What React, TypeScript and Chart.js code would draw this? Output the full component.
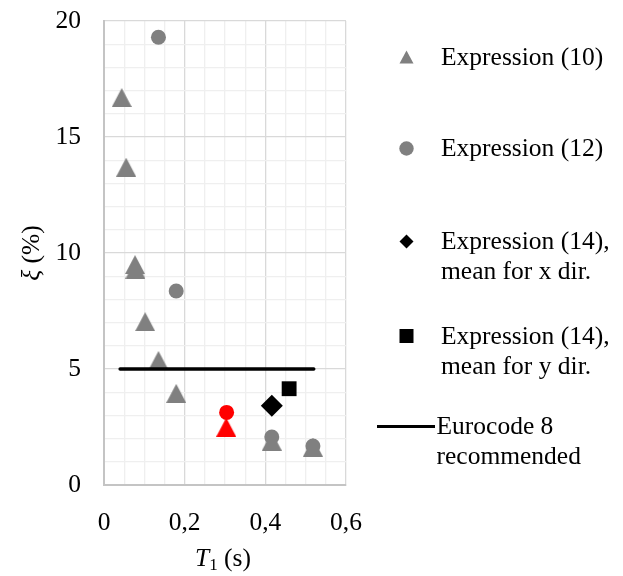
import React, { useEffect, useRef } from 'react';
import { Chart, registerables } from 'chart.js';

Chart.register(...registerables);

// ---------- data ----------
const expr10X = [0.044, 0.055, 0.077, 0.078, 0.102, 0.135, 0.179, 0.416, 0.518];
const expr10Y = [16.7, 13.7, 9.5, 9.3, 7.04, 5.37, 3.95, 1.89, 1.63];
const expr12X = [0.135, 0.179, 0.416, 0.518];
const expr12Y = [19.3, 8.36, 2.07, 1.68];
const highlightCircleX = [0.304];
const highlightCircleY = [3.13];
const highlightTriangleX = [0.303];
const highlightTriangleY = [2.49];
const expr14xDirX = [0.416];
const expr14xDirY = [3.42];
const expr14yDirX = [0.459];
const expr14yDirY = [4.15];
const eurocodeX = [0.04, 0.52];
const eurocodeY = [5, 5];

const xMin = 0, xMax = 0.6, xMinorStep = 0.05, xMajorStep = 0.2;
const yMin = 0, yMax = 20, yMinorStep = 1, yMajorStep = 5;

const legendLabels = [
  ['Expression (10)'],
  ['Expression (12)'],
  ['Expression (14),', 'mean for x dir.'],
  ['Expression (14),', 'mean for y dir.'],
  ['Eurocode 8', 'recommended'],
];

// ---------- styles ----------
const FONT = "'Liberation Serif', 'Times New Roman', serif";
const FS = 25.5;
const GRAY = '#808080';
const RED = '#ff0000';
const BLACK = '#000000';

const pts = (xs: number[], ys: number[]) => xs.map((x, i) => ({ x, y: ys[i] }));

const isMajor = (v: number, step: number) => Math.abs(v / step - Math.round(v / step)) < 1e-6;

function makeTriangle(w: number, h: number, color: string) {
  const c = document.createElement('canvas');
  c.width = w;
  c.height = h;
  const g = c.getContext('2d')!;
  g.fillStyle = color;
  g.beginPath();
  g.moveTo(w / 2, 0);
  g.lineTo(w, h);
  g.lineTo(0, h);
  g.closePath();
  g.fill();
  return c;
}

const overlayPlugin = {
  id: 'overlay',
  afterDraw(chart: any) {
    const ctx = chart.ctx as CanvasRenderingContext2D;
    const area = chart.chartArea;
    ctx.save();
    ctx.fillStyle = BLACK;
    ctx.textBaseline = 'alphabetic';

    // x title: T1 (s)
    const cx = (area.left + area.right) / 2 - 2;
    const by = 566;
    ctx.font = `italic ${FS}px ${FONT}`;
    const wT = ctx.measureText('T').width;
    ctx.font = `17px ${FONT}`;
    const w1 = ctx.measureText('1').width;
    ctx.font = `${FS}px ${FONT}`;
    const wS = ctx.measureText(' (s)').width;
    let sx = cx - (wT + w1 + wS) / 2;
    ctx.textAlign = 'left';
    ctx.font = `italic ${FS}px ${FONT}`;
    ctx.fillText('T', sx, by);
    sx += wT;
    ctx.font = `17px ${FONT}`;
    ctx.fillText('1', sx, by + 4);
    sx += w1;
    ctx.font = `${FS}px ${FONT}`;
    ctx.fillText(' (s)', sx, by);

    // y title: ξ (%)
    ctx.save();
    ctx.translate(39, (area.top + area.bottom) / 2);
    ctx.rotate(-Math.PI / 2);
    ctx.font = `italic ${FS}px ${FONT}`;
    const wXi = ctx.measureText('ξ').width;
    ctx.font = `${FS}px ${FONT}`;
    const wP = ctx.measureText(' (%)').width;
    let tx = -(wXi + wP) / 2;
    ctx.font = `italic ${FS}px ${FONT}`;
    ctx.fillText('ξ', tx, 0);
    tx += wXi;
    ctx.font = `${FS}px ${FONT}`;
    ctx.fillText(' (%)', tx, 0);
    ctx.restore();

    // legend
    const mx = 406.5;
    const textX = 441;
    const markerY = [57, 148.5, 241.5, 336, 426.5];
    ctx.font = `${FS}px ${FONT}`;
    // triangle
    ctx.fillStyle = GRAY;
    ctx.beginPath();
    ctx.moveTo(mx, markerY[0] - 6.5);
    ctx.lineTo(mx + 7, markerY[0] + 6.5);
    ctx.lineTo(mx - 7, markerY[0] + 6.5);
    ctx.closePath();
    ctx.fill();
    // circle
    ctx.beginPath();
    ctx.arc(mx, markerY[1], 7.2, 0, Math.PI * 2);
    ctx.fill();
    // diamond
    ctx.fillStyle = BLACK;
    ctx.beginPath();
    ctx.moveTo(mx, markerY[2] - 7);
    ctx.lineTo(mx + 7, markerY[2]);
    ctx.lineTo(mx, markerY[2] + 7);
    ctx.lineTo(mx - 7, markerY[2]);
    ctx.closePath();
    ctx.fill();
    // square
    ctx.fillRect(mx - 7, markerY[3] - 7, 14, 14);
    // line
    ctx.strokeStyle = BLACK;
    ctx.lineWidth = 3;
    ctx.beginPath();
    ctx.moveTo(377, markerY[4]);
    ctx.lineTo(435, markerY[4]);
    ctx.stroke();

    ctx.fillStyle = BLACK;
    legendLabels.forEach((lines, i) => {
      const x0 = i === 4 ? 436.5 : textX;
      lines.forEach((line, j) => {
        ctx.fillText(line, x0, markerY[i] + 7.5 + j * 30);
      });
    });
    ctx.restore();
  },
};

export default function App() {
  const ref = useRef<HTMLCanvasElement>(null);

  useEffect(() => {
    document.body.style.margin = '0';
    const triGray = makeTriangle(20, 19, GRAY);
    const triRed = makeTriangle(20, 19, RED);

    const tickFont = { family: FONT, size: FS };

    const chart = new Chart(ref.current!, {
      type: 'scatter',
      data: {
        datasets: [
          {
            type: 'line',
            label: 'Eurocode 8 recommended',
            data: pts(eurocodeX, eurocodeY),
            borderColor: BLACK,
            borderWidth: 3.5,
            borderCapStyle: 'round',
            pointRadius: 0,
            fill: false,
          } as any,
          {
            label: 'Expression (14), mean for x dir.',
            data: pts(expr14xDirX, expr14xDirY),
            pointStyle: 'rectRot',
            pointRadius: 11,
            backgroundColor: BLACK,
            borderColor: BLACK,
            borderWidth: 0,
          },
          {
            label: 'Expression (14), mean for y dir.',
            data: pts(expr14yDirX, expr14yDirY),
            pointStyle: 'rect',
            pointRadius: 10.5,
            backgroundColor: BLACK,
            borderColor: BLACK,
            borderWidth: 0,
          },
          {
            label: 'highlight circle',
            data: pts(highlightCircleX, highlightCircleY),
            pointStyle: 'circle',
            pointRadius: 7.5,
            backgroundColor: RED,
            borderColor: RED,
            borderWidth: 0,
          },
          {
            label: 'highlight triangle',
            data: pts(highlightTriangleX, highlightTriangleY),
            pointStyle: triRed,
            pointRadius: 10,
            backgroundColor: RED,
            borderColor: RED,
          },
          {
            label: 'Expression (12)',
            data: pts(expr12X, expr12Y),
            pointStyle: 'circle',
            pointRadius: 7.5,
            backgroundColor: GRAY,
            borderColor: GRAY,
            borderWidth: 0,
          },
          {
            label: 'Expression (10)',
            data: pts(expr10X, expr10Y),
            pointStyle: triGray,
            pointRadius: 10,
            backgroundColor: GRAY,
            borderColor: GRAY,
          },
        ],
      },
      options: {
        animation: false,
        responsive: false,
        devicePixelRatio: 1,
        events: [],
        layout: { padding: { left: 0, top: 21, right: 277, bottom: 0 } },
        plugins: {
          legend: { display: false },
          tooltip: { enabled: false },
        },
        scales: {
          x: {
            type: 'linear',
            min: xMin,
            max: xMax,
            afterFit: (s: any) => {
              s.height = 91;
              s.paddingLeft = 0;
              s.paddingRight = 0;
            },
            ticks: {
              stepSize: xMinorStep,
              autoSkip: false,
              maxRotation: 0,
              padding: 23,
              color: BLACK,
              font: tickFont,
              callback: (v: any) => {
                const n = Number(v);
                if (!isMajor(n, xMajorStep)) return '';
                return n === 0 ? '0' : n.toFixed(1).replace('.', ',');
              },
            },
            grid: {
              drawTicks: false,
              color: (c: any) => (isMajor(c.tick.value, xMajorStep) ? '#d9d9d9' : '#efefef'),
              lineWidth: 1.3,
            },
            border: { color: '#c4c4c4', width: 2 },
          },
          y: {
            type: 'linear',
            min: yMin,
            max: yMax,
            afterFit: (s: any) => {
              s.width = 104;
              s.paddingTop = 0;
              s.paddingBottom = 0;
            },
            ticks: {
              stepSize: yMinorStep,
              autoSkip: false,
              padding: 23,
              color: BLACK,
              font: tickFont,
              callback: (v: any) => {
                const n = Number(v);
                return isMajor(n, yMajorStep) ? String(n) : '';
              },
            },
            grid: {
              drawTicks: false,
              color: (c: any) => (isMajor(c.tick.value, yMajorStep) ? '#d9d9d9' : '#efefef'),
              lineWidth: 1.3,
            },
            border: { color: '#c4c4c4', width: 2 },
          },
        },
      },
      plugins: [overlayPlugin],
    } as any);

    return () => chart.destroy();
  }, []);

  return (
    <div style={{ position: 'absolute', left: 0, top: 0, width: 623, height: 576 }}>
      <canvas ref={ref} width={623} height={576} />
    </div>
  );
}
